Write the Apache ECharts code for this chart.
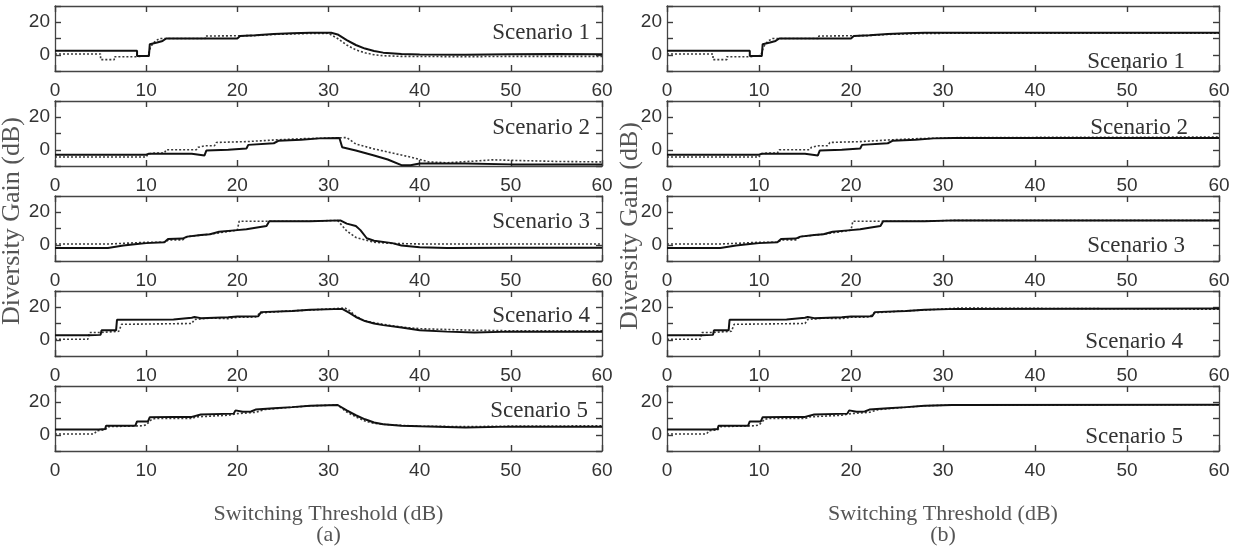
<!DOCTYPE html>
<html>
<head>
<meta charset="utf-8">
<title>Diversity Gain vs Switching Threshold</title>
<script src="https://cdn.jsdelivr.net/npm/echarts@6/dist/echarts.min.js"></script>
<style>
  html, body { margin: 0; padding: 0; background: #fff; }
  #chart { width: 1233px; height: 548px; }
</style>
</head>
<body>
<div id="chart"></div>
<script>
// axis ticks / labels
const xMin = 0, xMax = 60, xStep = 10;
const yMin = -10, yMax = 30, yStep = 10;
const yTickLabels = [0, 20];
const scenarioNames = ['Scenario 1', 'Scenario 2', 'Scenario 3', 'Scenario 4', 'Scenario 5'];

// [threshold dB, gain dB]; "Rise" is shared by (a) and (b)
const s1SolidRise = [[0,2.5],[9,2.5],[9,-0.8],[10.3,-0.8],[10.4,6.5],[11.2,7.5],[11.8,8.5],[12.2,10],[20,10],[20.3,11.5],[22,12],[24,12.8],[26,13.2],[28,13.5],[30.3,13.5]];
const s1SolidTailA = [[31,12.5],[32,9],[33,6],[34,3.8],[35,2.3],[36,1.3],[38,0.5],[40,0.2],[45,0],[50,0.3],[55,0.4],[60,0.3]];
const s1SolidTailB = [[60,13.5]];
const s1DotRise = [[0,0.5],[5,0.5],[5,-3],[6.5,-3],[6.5,-1.2],[9,-1.2],[9,-0.5],[10.2,-0.5],[10.5,5],[11,8.5],[11.5,10],[16.5,10],[16.5,11.5],[22,11.8],[24,12.5],[27,13],[30,13.2]];
const s1DotTailA = [[31,10],[32,6],[33,3],[34,1.2],[35,0],[36,-0.6],[38,-1],[45,-1.2],[50,-1],[60,-1]];
const s1DotTailB = [[60,13.3]];

const s2SolidRise = [[0,-3],[10,-3],[10.3,-2.5],[15,-2.5],[15.2,-3.5],[16.4,-3.5],[16.6,-0.5],[19,0],[21,0.8],[21.2,3],[24,4],[24.5,5.5],[27,6.2],[29,7],[31.2,7.2]];
const s2SolidTailA = [[31.5,1.5],[33,-0.5],[35,-3.5],[36.5,-6],[38,-9.5],[39,-9.5],[40,-8.5],[45,-8.5],[50,-9],[60,-9]];
const s2SolidTailB = [[60,7.2]];
const s2DotRise = [[0,-4.5],[10,-4.5],[10.2,-2.5],[11,-2],[12,-2],[12.2,0],[15.5,0],[15.7,1.5],[16.5,2.5],[17.5,2.5],[17.7,4.5],[21,5],[21.2,5.5],[24,6],[27,6.8],[30,7.2],[32,7.5]];
const s2DotTailA = [[33,3.5],[35,0.5],[37,-2],[39,-4.5],[41,-7.5],[43,-8],[46,-7],[48,-6.2],[50,-6.5],[55,-7.2],[60,-7.5]];
const s2DotTailB = [[60,7.8]];

const s3SolidRise = [[0,-2],[5.8,-2],[6,-1],[7.5,-0.5],[9,0.5],[10,1],[12,1.5],[12.4,3.5],[14,3.8],[14.5,5],[16,6],[17,6.5],[18,8],[20,9],[21,9.5],[22,10.5],[23.2,11.5],[23.5,14.5],[28,14.5],[31.3,15]];
const s3SolidTailA = [[32,13],[33,11.5],[33.5,9],[34.2,4],[35,2.5],[37,1],[38,-0.5],[40,-1.5],[43,-2],[50,-1.8],[60,-1.8]];
const s3SolidTailB = [[60,15]];
const s3DotRise = [[0,0.5],[6,0.5],[6.2,1],[10,1.5],[12,1.5],[12.5,3],[14,3],[14.5,5],[17,6.5],[20,9],[20.2,14.5],[28,14.5],[31,15]];
const s3DotTailA = [[32,8.5],[33,4.5],[34,3],[35,1.5],[37,0.8],[40,0.5],[50,0.5],[60,0.5]];
const s3DotTailB = [[60,15]];

const s4SolidRise = [[0,2.8],[3.7,2.8],[3.8,3],[5,3],[5.1,5.8],[6.7,5.8],[6.8,12.3],[13,12.5],[13.1,13.5],[15,13.5],[15.3,14],[16,13.3],[19,13.8],[20,14.3],[22.3,14.5],[22.6,17],[26,17.7],[28,18.5],[31.5,19]];
const s4SolidTailA = [[32.3,16.5],[33,14],[34,11.5],[35,10],[36,9],[38,7.5],[40,5.8],[43,5],[46,4.5],[50,5],[60,5]];
const s4SolidTailB = [[60,19.2]];
const s4DotRise = [[0,0.3],[3.6,0.3],[3.8,4.5],[5,4.5],[5.2,5.2],[7,5.2],[7.3,9.5],[15,10],[15.3,12.5],[17,13.3],[19,13],[20,13.8],[22,14],[22.5,16.5],[25,17.5],[28,18.3],[31.8,19.5]];
const s4DotTailA = [[32.3,18],[33,14.5],[34,11.5],[36,9.5],[38,7.8],[40,6.8],[45,6],[50,5.5],[60,5.5]];
const s4DotTailB = [[60,18.8]];

const s5SolidRise = [[0,3.2],[4.8,3.2],[5,3.5],[5.5,3.5],[5.6,5.5],[8.8,5.5],[9,8.2],[10.2,8.2],[10.4,10.8],[13,11],[15,11],[15.2,12],[16,12.5],[19.6,13],[19.8,15],[20.6,14.2],[21.5,14.3],[22,15.5],[24,16.3],[26,17],[28,17.8],[31,18.3]];
const s5SolidTailA = [[32,15],[33,12],[34,9.5],[35,7.5],[36,6.5],[38,5.6],[40,5.2],[45,4.5],[50,5],[60,5]];
const s5SolidTailB = [[60,18.5]];
const s5DotRise = [[0,0.5],[4.3,0.5],[4.6,2.5],[5.5,3],[5.8,5],[9.5,5.5],[10,6],[10.6,9.5],[11,10],[15,10],[15.5,11],[19,12],[20,13],[22,13.8],[23,15.5],[25,16.5],[28,17.8],[31,18.3]];
const s5DotTailA = [[32,14],[33,11],[34,8.5],[35,7],[37,6],[40,5.3],[45,5],[50,5.3],[60,5.5]];
const s5DotTailB = [[60,18.5]];

const solidRise = [s1SolidRise, s2SolidRise, s3SolidRise, s4SolidRise, s5SolidRise];
const solidTailA = [s1SolidTailA, s2SolidTailA, s3SolidTailA, s4SolidTailA, s5SolidTailA];
const solidTailB = [s1SolidTailB, s2SolidTailB, s3SolidTailB, s4SolidTailB, s5SolidTailB];
const dotRise = [s1DotRise, s2DotRise, s3DotRise, s4DotRise, s5DotRise];
const dotTailA = [s1DotTailA, s2DotTailA, s3DotTailA, s4DotTailA, s5DotTailA];
const dotTailB = [s1DotTailB, s2DotTailB, s3DotTailB, s4DotTailB, s5DotTailB];

// layout (pixels)
const colLeft = [55, 667];
const colWidth = [547, 552];
const rowTop = [6, 101, 196, 291, 386];
const rowHeight = 65;
// scenario label: [right edge offset from box right, center offset from box top] per column/row
const labelPos = [
  [[12, 27], [12, 27], [12, 26], [12, 25], [14, 25]],
  [[34, 56], [31, 27], [34, 50], [36, 51], [36, 51]]
];

const serif = '"Liberation Serif", "DejaVu Serif", serif';
const sans = '"Liberation Sans", Arial, sans-serif';

const chart = echarts.init(document.getElementById('chart'));

const grid = [], xAxis = [], yAxis = [], series = [], graphic = [];

function boxLine() {
  return { show: true, onZero: false, lineStyle: { color: '#444', width: 1.3 } };
}
function boxTick() {
  return { show: true, inside: true, length: 6, lineStyle: { color: '#3c3c3c', width: 1.4 } };
}

for (let c = 0; c < 2; c++) {
  for (let r = 0; r < 5; r++) {
    const g = grid.length;
    grid.push({
      left: colLeft[c], top: rowTop[r], width: colWidth[c], height: rowHeight
    });
    // box drawn by the four axis lines, MATLAB-style inward ticks on every side
    xAxis.push({
      gridIndex: g, type: 'value', min: xMin, max: xMax, interval: xStep, position: 'bottom',
      axisLine: boxLine(), axisTick: boxTick(), splitLine: { show: false },
      axisLabel: { fontFamily: sans, fontSize: 19, color: '#333', margin: 10 }
    });
    xAxis.push({
      gridIndex: g, type: 'value', min: xMin, max: xMax, interval: xStep, position: 'top',
      axisLine: boxLine(), axisTick: boxTick(), splitLine: { show: false }, axisLabel: { show: false }
    });
    yAxis.push({
      gridIndex: g, type: 'value', min: yMin, max: yMax, interval: yStep, position: 'left',
      axisLine: boxLine(), axisTick: boxTick(), splitLine: { show: false },
      axisLabel: {
        fontFamily: sans, fontSize: 19, color: '#333', margin: 5,
        formatter: v => (yTickLabels.indexOf(v) >= 0 ? String(v) : '')
      }
    });
    yAxis.push({
      gridIndex: g, type: 'value', min: yMin, max: yMax, interval: yStep, position: 'right',
      axisLine: boxLine(), axisTick: boxTick(), splitLine: { show: false }, axisLabel: { show: false }
    });

    const solid = solidRise[r].concat(c === 0 ? solidTailA[r] : solidTailB[r]);
    const dot = dotRise[r].concat(c === 0 ? dotTailA[r] : dotTailB[r]);
    series.push({
      type: 'line', xAxisIndex: 2 * g, yAxisIndex: 2 * g, data: dot,
      symbol: 'none', silent: true, z: 2,
      lineStyle: { color: '#3a3a3a', width: 1.6, type: [2, 2] }
    });
    series.push({
      type: 'line', xAxisIndex: 2 * g, yAxisIndex: 2 * g, data: solid,
      symbol: 'none', silent: true, z: 3,
      lineStyle: { color: '#111', width: 2 }
    });

    const lp = labelPos[c][r];
    graphic.push({
      type: 'text', x: colLeft[c] + colWidth[c] - lp[0], y: rowTop[r] + lp[1],
      style: {
        text: scenarioNames[r], align: 'right', verticalAlign: 'middle',
        font: '23px ' + serif, fill: '#333'
      }
    });
  }

  const cx = colLeft[c] + colWidth[c] / 2;
  graphic.push({
    type: 'text', x: cx, y: 514,
    style: { text: 'Switching Threshold (dB)', align: 'center', verticalAlign: 'middle', font: '22px ' + serif, fill: '#555' }
  });
  graphic.push({
    type: 'text', x: cx, y: 535,
    style: { text: c === 0 ? '(a)' : '(b)', align: 'center', verticalAlign: 'middle', font: '22px ' + serif, fill: '#555' }
  });
  graphic.push({
    type: 'text', x: c === 0 ? 12 : 630, y: c === 0 ? 221 : 226, rotation: Math.PI / 2,
    style: { text: 'Diversity Gain (dB)', align: 'center', verticalAlign: 'middle', font: '26px ' + serif, fill: '#555' }
  });
}

chart.setOption({
  animation: false,
  backgroundColor: '#fff',
  grid: grid,
  xAxis: xAxis,
  yAxis: yAxis,
  series: series,
  graphic: graphic
});
</script>
</body>
</html>
